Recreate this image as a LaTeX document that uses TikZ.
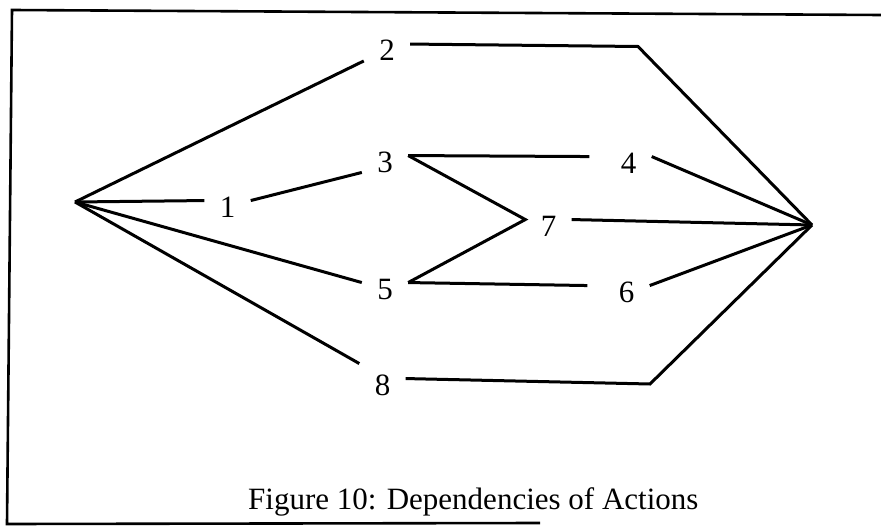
\documentclass[tikz,border=0pt]{standalone}
\usepackage{fontspec}
\setmainfont{Liberation Serif}
\begin{document}
\begin{tikzpicture}[x=1pt,y=-1pt,
  link/.style={line width=3pt, line join=miter},
  frame/.style={line width=2.6pt, line join=miter},
  act/.style={rectangle, inner sep=0pt, minimum width=46pt, minimum height=12pt,
    text height=16.5pt, text depth=-4.5pt, font=\fontsize{31}{36}\selectfont},
  caption/.style={font=\fontsize{31}{36}\selectfont, anchor=base west, inner sep=0pt}]
\useasboundingbox (0,0) rectangle (881,527);

% open frame around the network
\coordinate (f1) at (540,523);
\coordinate (f2) at (7,524);
\coordinate (f3) at (12,10);
\coordinate (f4) at (881,15);
\draw[frame] (f1) -- (f2) -- (f3) -- (f4);

% start and end points of the network
\coordinate (src) at (75,202);
\coordinate (snk) at (812,225);
\coordinate (b2) at (638,46.5);
\coordinate (b8) at (650,384);

% actions
\node[act] (n1) at (227.5,209) {1};
\node[act] (n2) at (387,52.5) {2};
\node[act] (n3) at (385,164) {3};
\node[act] (n4) at (628.5,165) {4};
\node[act] (n5) at (385,291) {5};
\node[act] (n6) at (626.5,294) {6};
\node[act] (n7) at (548.5,228) {7};
\node[act] (n8) at (382.5,387) {8};

% dependencies
\draw[link] (src) -- (n2.south west);
\draw[link] (src) -- (n1.north west);
\draw[link] (src) -- (n5.north west);
\draw[link] (src) -- ([yshift=15pt]n8.north west);
\draw[link] (n1.north east) -- (n3.south west);
\draw[link] (n2.north east) -- (b2) -- (snk);
\draw[link] (n3.north east) -- ([xshift=-16pt]n4.north west);
\draw[link] (n3.north east) -- (n7.north west) -- (n5.north east);
\draw[link] (n5.north east) -- ([xshift=-16pt]n6.north west);
\draw[link] (n4.north east) -- (snk);
\draw[link] (n7.north east) -- (snk);
\draw[link] (n6.north east) -- (snk);
\draw[link] (n8.north east) -- (b8) -- (snk);

% caption
\node[caption] (cap) at (248,509.5) {Figure 10: Dependencies of Actions};
\end{tikzpicture}
\end{document}
